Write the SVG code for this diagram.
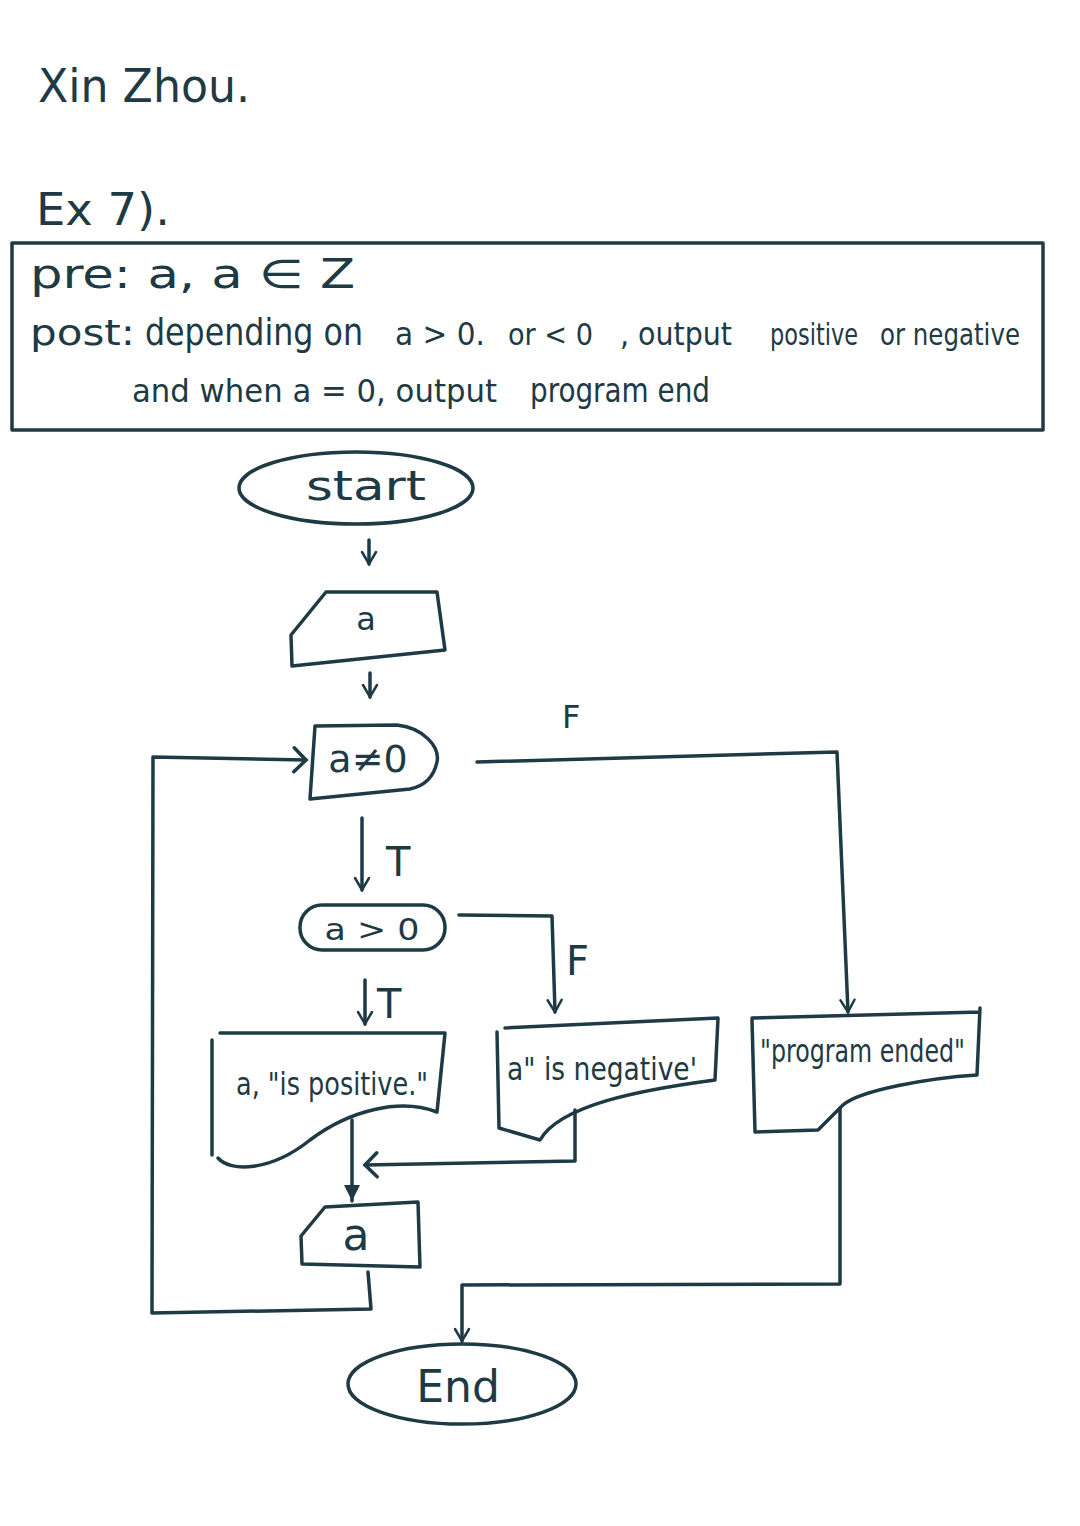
<svg xmlns="http://www.w3.org/2000/svg" width="1080" height="1526" viewBox="0 0 1080 1526">
<defs>
<style>
.s{fill:none;stroke:#1e3a44;stroke-width:3.5;stroke-linejoin:round;stroke-linecap:round}
.t{fill:#1e3a44;font-family:"DejaVu Sans","Liberation Sans",sans-serif}
.th{fill:#1e3a44;font-family:"DejaVu Sans Condensed","Liberation Sans",sans-serif}
</style>
<marker id="v" viewBox="0 0 20 20" refX="18" refY="10" markerWidth="20" markerHeight="20" markerUnits="userSpaceOnUse" orient="auto">
<path d="M6,3 L18,10 L6,17" fill="none" stroke="#1e3a44" stroke-width="2.5" stroke-linecap="round"/>
</marker>
<marker id="vh" viewBox="0 0 30 30" refX="26" refY="15" markerWidth="30" markerHeight="30" markerUnits="userSpaceOnUse" orient="auto">
<path d="M14,3 L26,15 L14,27" fill="none" stroke="#1e3a44" stroke-width="3.5" stroke-linecap="round"/>
</marker>
<marker id="fill" viewBox="0 0 20 20" refX="19" refY="10" markerWidth="20" markerHeight="20" markerUnits="userSpaceOnUse" orient="auto">
<path d="M3,2 L19,10 L3,18 Z" fill="#1e3a44"/>
</marker>
</defs>
<rect width="1080" height="1526" fill="#ffffff"/>

<g id="header">
<text class="t" x="38" y="102" font-size="46" textLength="212" lengthAdjust="spacingAndGlyphs">Xin Zhou.</text>
<text class="t" x="36" y="225" font-size="44" textLength="134" lengthAdjust="spacingAndGlyphs">Ex 7).</text>
</g>

<g id="spec">
<rect x="12" y="243" width="1031" height="187" class="s"/>
<text class="th" x="30" y="288" font-size="40" textLength="325" lengthAdjust="spacingAndGlyphs">pre: a, a ∈ Z</text>
<text class="th" x="30" y="345" font-size="36" textLength="105" lengthAdjust="spacingAndGlyphs">post:</text>
<text class="th" x="145" y="345" font-size="38" textLength="218" lengthAdjust="spacingAndGlyphs">depending on</text>
<text class="th" x="395" y="345" font-size="32" textLength="90" lengthAdjust="spacingAndGlyphs">a &gt; 0.</text>
<text class="th" x="508" y="345" font-size="30" textLength="85" lengthAdjust="spacingAndGlyphs">or &lt; 0</text>
<text class="th" x="620" y="345" font-size="32" textLength="112" lengthAdjust="spacingAndGlyphs">, output</text>
<text class="th" x="770" y="345" font-size="30" textLength="88" lengthAdjust="spacingAndGlyphs">positive</text>
<text class="th" x="880" y="345" font-size="30" textLength="140" lengthAdjust="spacingAndGlyphs">or negative</text>
<text class="th" x="132" y="402" font-size="32" textLength="365" lengthAdjust="spacingAndGlyphs">and when a = 0, output</text>
<text class="th" x="530" y="402" font-size="34" textLength="180" lengthAdjust="spacingAndGlyphs">program end</text>
</g>

<g id="start">
<ellipse cx="356" cy="488" rx="117" ry="36" class="s"/>
<text class="t" x="366" y="500" font-size="40" text-anchor="middle" textLength="120" lengthAdjust="spacingAndGlyphs">start</text>
</g>

<g id="input-a">
<polygon points="326,592 437,592 445,650 292,666 291,635" class="s"/>
<text class="t" x="366" y="630" font-size="32" text-anchor="middle">a</text>
</g>

<g id="decision-a-ne-0">
<path d="M315,726 L397,725 C425,728 440,748 437,762 C434,776 425,786 410,789 L310,799 Z" class="s"/>
<text class="t" x="368" y="772" font-size="38" text-anchor="middle">a≠0</text>
</g>

<g id="decision-a-gt-0">
<rect x="300" y="905" width="145" height="45" rx="22" class="s"/>
<text class="t" x="372" y="940" font-size="30" text-anchor="middle" textLength="95" lengthAdjust="spacingAndGlyphs">a &gt; 0</text>
</g>

<g id="out-positive">
<path d="M220,1033 L445,1033 L437,1112 C400,1098 350,1110 310,1140 C270,1172 230,1172 218,1158" class="s"/>
<path d="M212,1040 L212,1155" class="s"/>
<text class="th" x="236" y="1095" font-size="32" textLength="192" lengthAdjust="spacingAndGlyphs">a, "is positive."</text>
</g>

<g id="out-negative">
<path d="M505,1028 L718,1018 L715,1080 C640,1090 560,1105 540,1140 L499,1128 L497,1032" class="s"/>
<text class="th" x="507" y="1080" font-size="32" textLength="190" lengthAdjust="spacingAndGlyphs">a" is negative'</text>
</g>

<g id="out-ended">
<path d="M752,1018 L980,1012 M980,1008 L977,1075 C930,1078 860,1090 843,1105 L818,1130 L755,1132 L752,1020" class="s"/>
<text class="th" x="760" y="1062" font-size="32" textLength="205" lengthAdjust="spacingAndGlyphs">"program ended"</text>
</g>

<g id="output-a">
<polygon points="325,1207 418,1202 420,1267 302,1264 301,1236" class="s"/>
<text class="t" x="356" y="1250" font-size="44" text-anchor="middle">a</text>
</g>

<g id="end">
<ellipse cx="462" cy="1384" rx="114" ry="40" class="s"/>
<text class="t" x="458" y="1402" font-size="44" text-anchor="middle">End</text>
</g>

<g id="connectors">
<line x1="369" y1="540" x2="369" y2="564" class="s" stroke-width="2.5" marker-end="url(#v)"/>
<line x1="370" y1="673" x2="370" y2="697" class="s" stroke-width="2.5" marker-end="url(#v)"/>
<line x1="362" y1="818" x2="362" y2="890" class="s" marker-end="url(#v)"/>
<text class="t" x="386" y="876" font-size="40">T</text>
<path d="M477,762 L837,752 L848,1012" class="s" marker-end="url(#v)"/>
<text class="t" x="562" y="728" font-size="32">F</text>
<path d="M459,915 L552,916 L555,1012" class="s" stroke-width="2.5" marker-end="url(#v)"/>
<text class="t" x="566" y="975" font-size="40">F</text>
<line x1="365" y1="980" x2="365" y2="1024" class="s" marker-end="url(#v)"/>
<text class="t" x="377" y="1018" font-size="40">T</text>
<line x1="352" y1="1120" x2="352" y2="1201" class="s" marker-end="url(#fill)"/>
<path d="M575,1110 L575,1161 L365,1165" class="s" marker-end="url(#vh)"/>
<path d="M840,1108 L840,1284 L462,1285 L462,1341" class="s" marker-end="url(#v)"/>
<path d="M368,1272 L371,1309 L152,1313 L153,757 L306,760" class="s" marker-end="url(#vh)"/>
</g>
</svg>
